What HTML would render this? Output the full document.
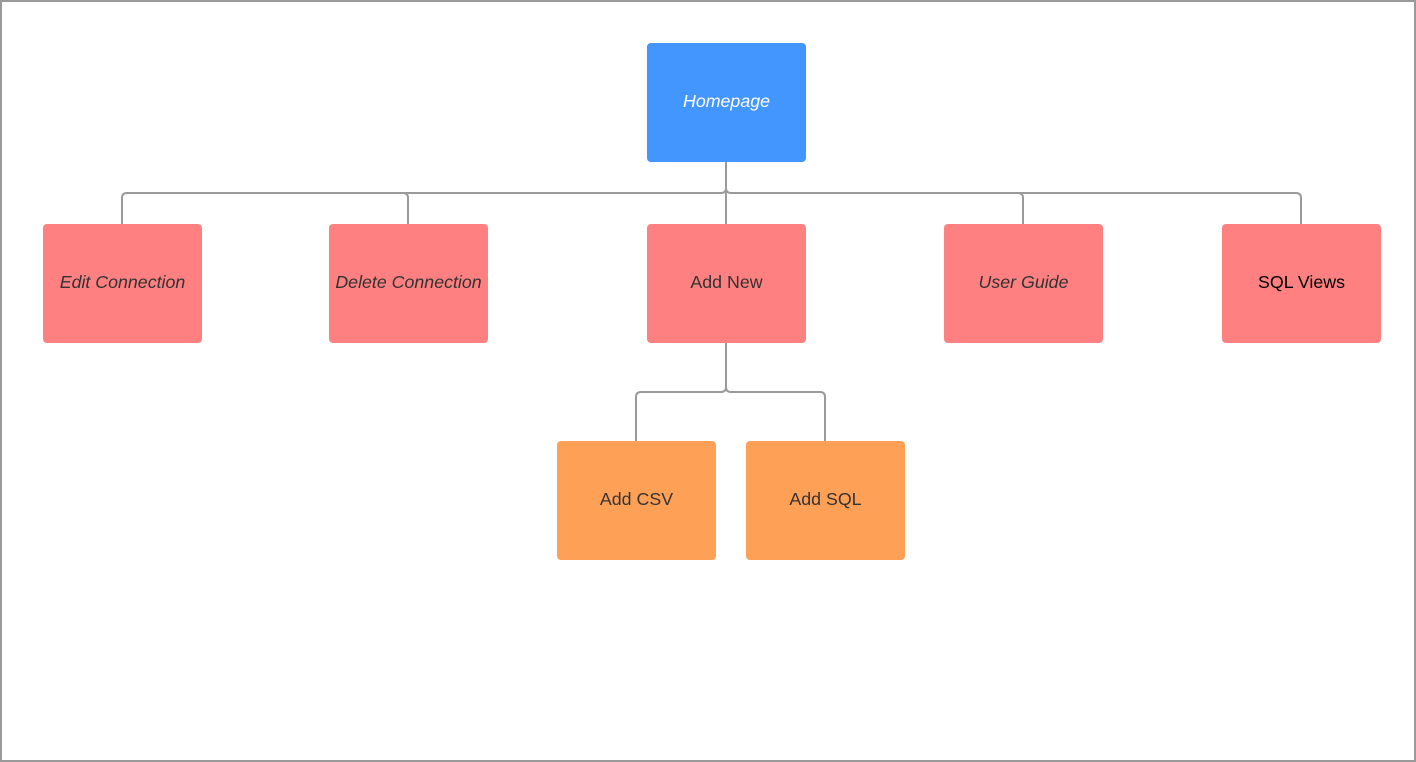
<!DOCTYPE html>
<html><head><style>
body{margin:0;width:1416px;height:762px;background:#fff;overflow:hidden}
.f{position:absolute;left:0;top:0;width:1412px;height:758px;border:2px solid #9a9a9a}
.b{position:absolute;width:159px;height:116px;padding-bottom:3px;border-radius:4px;display:flex;align-items:center;justify-content:center;font-family:"Liberation Sans",sans-serif;font-size:17.8px;color:#333}
.r{background:#ff8080}.o{background:#ffa057}
i{font-style:italic}
</style></head><body>
<div class="f"></div>
<svg style="position:absolute;left:0;top:0" width="1416" height="762">
<g fill="none" stroke="#9a9a9a" stroke-width="2">
<path d="M726 161V188q0 5 -5 5H127q-5 0 -5 5V224"/>
<path d="M726 188q0 5 5 5H1296q5 0 5 5V224"/>
<path d="M403 193q5 0 5 5V224"/>
<path d="M1018 193q5 0 5 5V224"/>
<path d="M726 161V224"/>
<path d="M726 343V387q0 5 -5 5H641q-5 0 -5 5V441"/>
<path d="M726 387q0 5 5 5H820q5 0 5 5V441"/>
</g></svg>
<div class="b" style="left:647px;top:43px;background:#4496ff;color:#fff"><i>Homepage</i></div>
<div class="b r" style="left:43px;top:224px"><i>Edit Connection</i></div>
<div class="b r" style="left:329px;top:224px"><i>Delete Connection</i></div>
<div class="b r" style="left:647px;top:224px">Add New</div>
<div class="b r" style="left:944px;top:224px"><i>User Guide</i></div>
<div class="b r" style="left:1222px;top:224px;color:#000">SQL Views</div>
<div class="b o" style="left:557px;top:441px">Add CSV</div>
<div class="b o" style="left:746px;top:441px">Add SQL</div>
</body></html>
